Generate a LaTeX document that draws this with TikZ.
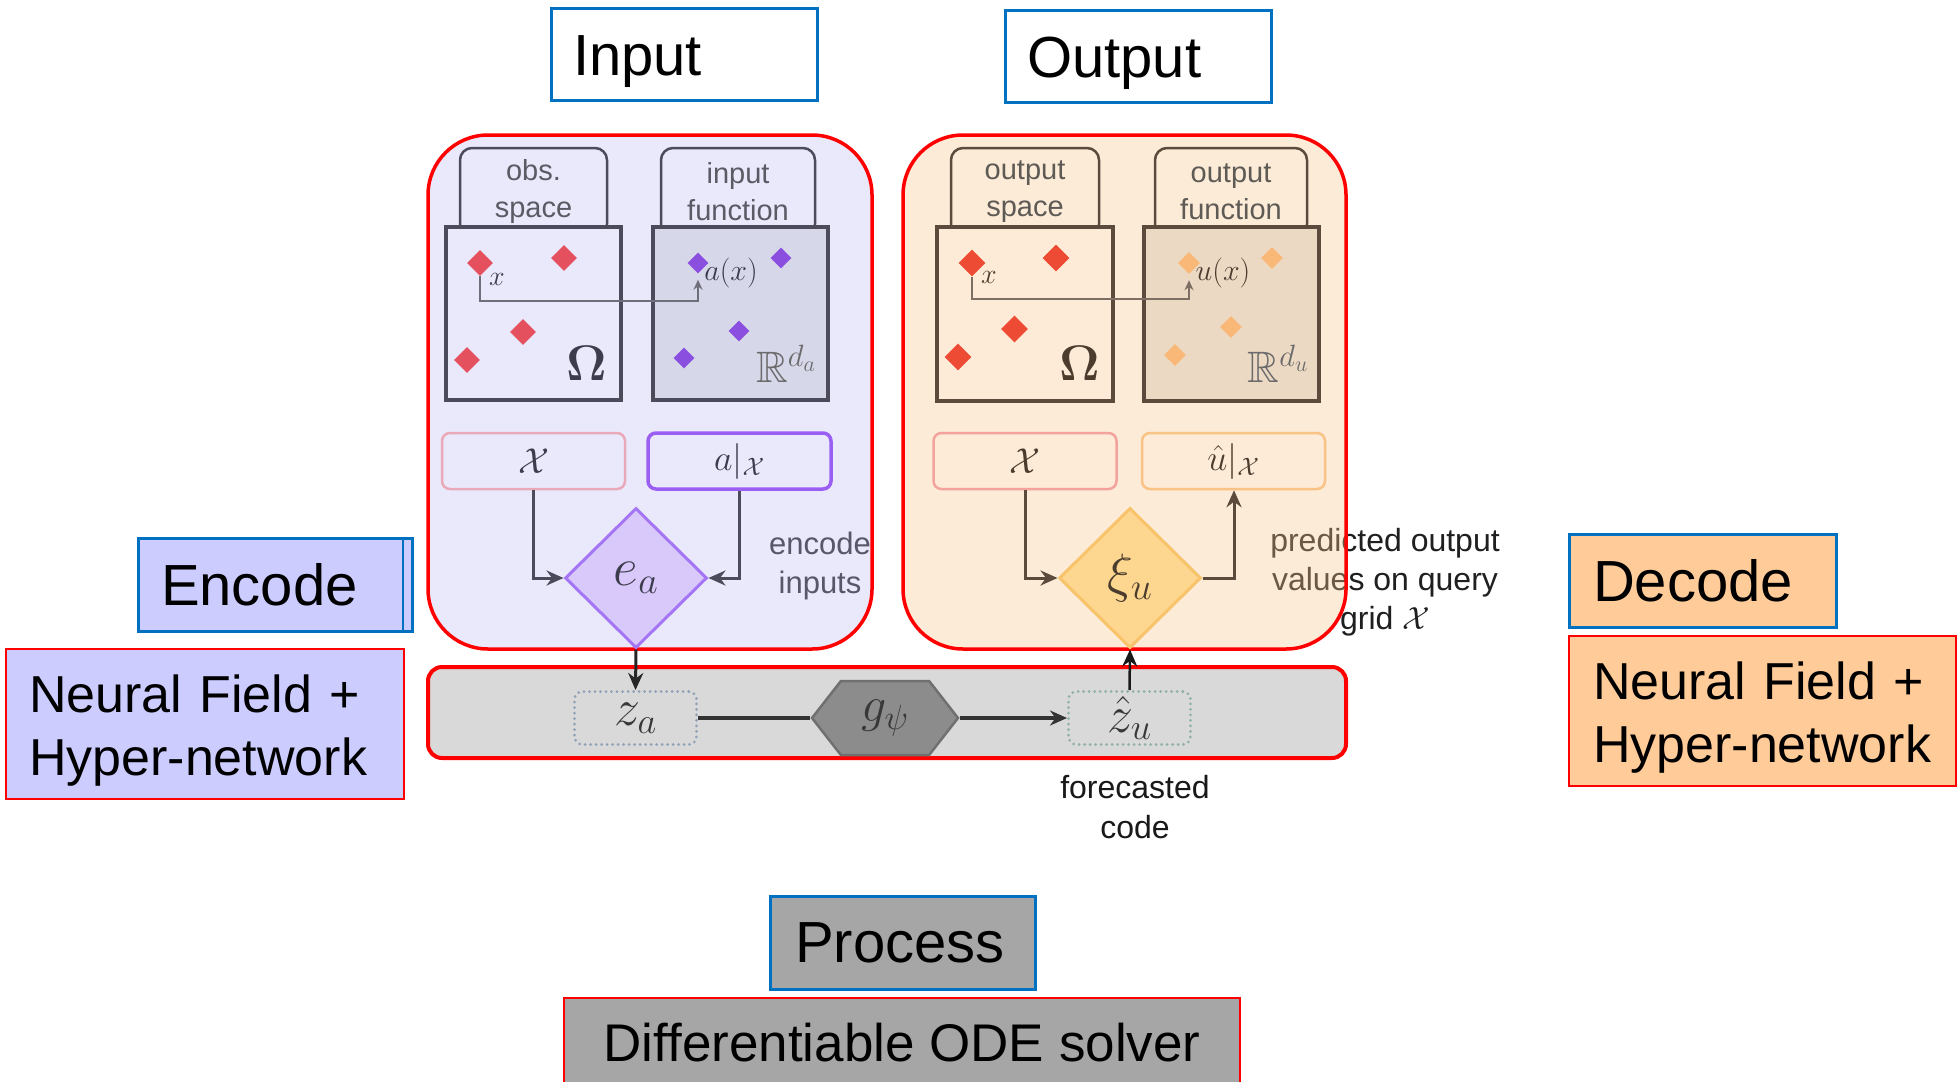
\RequirePackage{fix-cm}
\documentclass[tikz,border=0pt]{standalone}
\usepackage[no-math]{fontspec}
\usepackage{amssymb}
\newfontfamily\arial{Liberation Sans}
\usetikzlibrary{arrows.meta,shapes.geometric,shapes.symbols}

% label boxes
\definecolor{frameblue}{HTML}{0070C0}
\definecolor{framered}{HTML}{FF0000}
\definecolor{encfill}{HTML}{CCCCFF}
\definecolor{decfill}{HTML}{FFCC99}
\definecolor{procfill}{HTML}{A6A6A6}
% encoder panel
\definecolor{encbg}{RGB}{192,192,244}
\definecolor{encpane}{HTML}{E9E9FB}
\definecolor{encdark}{HTML}{4B4B5B}
\definecolor{encR}{HTML}{D7D7EA}
\definecolor{encred}{HTML}{E5505F}
\definecolor{encpurple}{HTML}{8B4FE0}
\definecolor{encpink}{HTML}{E9A9B9}
\definecolor{encviolet}{HTML}{9B5EF2}
\definecolor{eafill}{HTML}{D9C9FB}
\definecolor{eadraw}{HTML}{A476F3}
\definecolor{encmath}{HTML}{3C3C4C}
\definecolor{enctxt}{HTML}{5B5B66}
% decoder panel
\definecolor{decbg}{RGB}{249,198,141}
\definecolor{decpane}{HTML}{FDEBD7}
\definecolor{decdark}{HTML}{5C4B3C}
\definecolor{decR}{HTML}{ECD9C4}
\definecolor{decred}{HTML}{EE4B35}
\definecolor{decorange}{HTML}{F9B877}
\definecolor{decpink}{HTML}{F3A39C}
\definecolor{decamber}{HTML}{F8C384}
\definecolor{xifill}{HTML}{FDD78F}
\definecolor{xidraw}{HTML}{F8C36B}
\definecolor{decmath}{HTML}{4B3C2E}
\definecolor{dectxt}{HTML}{5E5A55}
% processor bar
\definecolor{barfill}{HTML}{D9D9D9}
\definecolor{zadot}{HTML}{8FA0B8}
\definecolor{zudot}{HTML}{8FB0A6}
\definecolor{hexfill}{HTML}{8C8C8C}
\definecolor{hexdraw}{HTML}{707070}

% struts that keep the capitals centred in their boxes
\newcommand{\capstrut}{\rule{0pt}{53.5pt}}
\newcommand{\nfstrut}{\rule{0pt}{50pt}}

\tikzset{
  bigfont/.style={font=\arial\fontsize{58}{70}\selectfont},
  nffont/.style={font=\arial\fontsize{52}{63}\selectfont},
  titlebox/.style={draw=frameblue, line width=3pt, fill=white, bigfont,
    inner ysep=0pt, align=left, anchor=center},
  nfbox/.style={draw=framered, line width=2pt, nffont, inner ysep=0pt, align=left},
  panel/.style={draw=framered, line width=3.5pt, rounded corners=60pt,
    fill opacity=0.35, draw opacity=1, inner sep=0pt},
  note/.style={font=\arial\fontsize{31}{39}\selectfont, align=center, text=black!88},
  tab/.style={line width=2.5pt, rounded corners=12pt, inner sep=0pt, align=center,
    font=\arial\fontsize{29}{37}\selectfont, minimum height=88pt},
  space/.style={line width=4pt, minimum width=175pt, minimum height=173pt, inner sep=0pt},
  gem/.style={shape=diamond, aspect=1, inner sep=0pt, minimum size=#1},
  setbox/.style={line width=2.5pt, rounded corners=8pt, minimum width=183pt,
    minimum height=56pt, inner sep=0pt, font=\fontsize{36}{42}\selectfont},
  netgem/.style={shape=diamond, aspect=1, inner sep=0pt, line width=3pt,
    minimum width=142pt, minimum height=140pt, font=\fontsize{54}{60}\selectfont},
  code/.style={line width=3pt, dash pattern=on 0pt off 5.5pt, line cap=round,
    rounded corners=8pt, minimum width=122pt, minimum height=53pt, inner sep=0pt,
    font=\fontsize{52}{58}\selectfont, text=black!78},
  arr/.style={line width=3pt, -{Stealth[length=17pt,width=15pt]}},
  thinarr/.style={line width=1.6pt, -{Stealth[length=10pt,width=9pt]}},
  mathlbl/.style={inner sep=0pt, font=\fontsize{28}{32}\selectfont},
  bigR/.style={inner sep=0pt, text=black!58, font=\fontsize{44}{50}\selectfont},
  omega/.style={inner sep=0pt, font=\fontsize{50}{56}\selectfont},
}

\begin{document}
\begin{tikzpicture}[x=1pt,y=-1pt]
\useasboundingbox (0,0) rectangle (1958,1081);
\fill[white] (0,0) rectangle (1958,1081);

% ---------- headings ----------
\node[titlebox, text width=222pt, inner xsep=22pt, minimum height=91pt] (input) at (684,54.5) {\capstrut Input};
\node[titlebox, text width=222pt, inner xsep=22pt, minimum height=91pt] (output) at (1138,56.5) {\capstrut Output};

% ---------- side labels ----------
\node[titlebox, fill=encfill, text width=228pt, inner xsep=23pt, minimum height=93pt] (encode) at (275,584.5) {Encode};
\draw[frameblue, line width=2.5pt] (403,538) -- (403,631);
\node[nfbox, fill=encfill, text width=352pt, inner xsep=23pt, minimum height=150pt] (nfenc) at (205,724)
  {\nfstrut\mbox{Neural Field +}\\\mbox{Hyper-network}};

\node[titlebox, fill=decfill, text width=219pt, inner xsep=24pt, minimum height=93pt] (decode) at (1702.5,580.5) {Decode};
\node[nfbox, fill=decfill, text width=339pt, inner xsep=24pt, minimum height=150pt] (nfdec) at (1762.5,711)
  {\nfstrut\mbox{Neural Field +}\\\mbox{Hyper-network}};

\node[titlebox, fill=procfill, text width=215pt, inner xsep=25pt, minimum height=93pt] (process) at (902.5,942.5) {Process};
\node[nfbox, fill=procfill, minimum width=676pt, minimum height=90pt, align=center,
      font=\arial\fontsize{53}{63}\selectfont] (solver) at (902,1043) {Differentiable ODE solver};

% ---------- annotations (seen through the panels) ----------
\node[note] (enctext) at (820,566) {encode\\inputs};
\node[note, font=\arial\fontsize{32}{39}\selectfont] (predtext) at (1385,582) {predicted output\\values on query\\grid $\mathcal{X}$};

% ---------- panels ----------
\node[panel, fill=encbg, minimum width=444pt, minimum height=514pt] (encpanel) at (650,392) {};
\node[panel, fill=decbg, minimum width=443pt, minimum height=514pt] (decpanel) at (1124.5,392) {};
\node[draw=framered, line width=4pt, fill=barfill, rounded corners=14pt,
      minimum width=918pt, minimum height=91pt, inner sep=0pt] (procbar) at (887,712.5) {};

% ---------- encoder panel ----------
\node[tab, draw=encdark, text=enctxt, minimum width=147pt] (obstab) at (533.5,192) {obs.\\space};
\node[tab, draw=encdark, text=enctxt, minimum width=154pt] (intab) at (738,192) {input\\function};
\node[space, draw=encdark, fill=encpane] (omegaA) at (533.5,313.5) {};
\node[space, draw=encdark, fill=encR] (rA) at (740.5,313.5) {};

\node[gem=26pt, fill=encred] (xA) at (480,263) {};
\node[gem=26pt, fill=encred] (rdA2) at (564,258) {};
\node[gem=26pt, fill=encred] (rdA3) at (523,332) {};
\node[gem=26pt, fill=encred] (rdA4) at (467,360) {};
\node[gem=21pt, fill=encpurple] (axA) at (698,263) {};
\node[gem=21pt, fill=encpurple] (pdA2) at (781,258) {};
\node[gem=21pt, fill=encpurple] (pdA3) at (739,331) {};
\node[gem=21pt, fill=encpurple] (pdA4) at (684,358) {};
\coordinate (bendA) at (480,301);
\draw[thinarr, draw=encdark!80] (xA.south) -- (bendA) -| ([yshift=-6pt]axA.south);
\node[mathlbl, text=encmath] (xlblA) at (497,279) {$x$};
\node[mathlbl, text=encmath, font=\fontsize{30}{34}\selectfont] (axlbl) at (731,273) {$a(x)$};
\node[omega, text=encmath] (omlblA) at (587,363) {$\mathbf{\Omega}$};
\node[bigR] (rlblA) at (786,364) {$\mathbb{R}^{d_a}$};

\node[setbox, draw=encpink, fill=encpane, text=encmath] (gridA) at (533.5,461) {$\mathcal{X}$};
\node[setbox, draw=encviolet, line width=3.5pt, fill=encpane, text=encmath] (aX) at (739.5,461) {$a\vert_{\mathcal{X}}$};
\node[netgem, fill=eafill, draw=eadraw, text=encmath] (ea) at (636,578) {$e_a$};
\draw[arr, draw=encdark] (gridA.south) |- (ea.west);
\draw[arr, draw=encdark] (aX.south) |- (ea.east);

% ---------- decoder panel ----------
\node[tab, draw=decdark, text=dectxt, minimum width=148pt] (outtab) at (1025,192) {output\\space};
\node[tab, draw=decdark, text=dectxt, minimum width=152pt] (fntab) at (1231,192) {output\\function};
\node[space, draw=decdark, fill=decpane, minimum width=176pt, minimum height=174pt] (omegaB) at (1025,314) {};
\node[space, draw=decdark, fill=decR, minimum width=175pt, minimum height=174pt] (rB) at (1231.5,314) {};

\node[gem=27pt, fill=decred] (xB) at (972,263) {};
\node[gem=27pt, fill=decred] (rdB2) at (1056,258) {};
\node[gem=27pt, fill=decred] (rdB3) at (1014.5,329) {};
\node[gem=27pt, fill=decred] (rdB4) at (958,357) {};
\node[gem=22pt, fill=decorange] (uxB) at (1189,263) {};
\node[gem=22pt, fill=decorange] (odB2) at (1272,258) {};
\node[gem=22pt, fill=decorange] (odB3) at (1231,327) {};
\node[gem=22pt, fill=decorange] (odB4) at (1175,355) {};
\coordinate (bendB) at (972,299);
\draw[thinarr, draw=decdark!80] (xB.south) -- (bendB) -| ([yshift=-6pt]uxB.south);
\node[mathlbl, text=decmath] (xlblB) at (989,277) {$x$};
\node[mathlbl, text=decmath, font=\fontsize{30}{34}\selectfont] (uxlbl) at (1223,273) {$u(x)$};
\node[omega, text=decmath] (omlblB) at (1080,363) {$\mathbf{\Omega}$};
\node[bigR] (rlblB) at (1278,364) {$\mathbb{R}^{d_u}$};

\node[setbox, draw=decpink, fill=decpane, text=decmath] (gridB) at (1025,461) {$\mathcal{X}$};
\node[setbox, draw=decamber, fill=decpane, text=decmath] (uX) at (1233.5,461) {$\hat{u}\vert_{\mathcal{X}}$};
\node[netgem, fill=xifill, draw=xidraw, text=decmath] (xi) at (1130,578) {$\xi_u$};
\coordinate (riseB) at (1234,578);
\draw[arr, draw=decdark] (gridB.south) |- (xi.west);
\draw[arr, draw=decdark] (xi.east) -- (riseB) -- (uX.south -| riseB);

% ---------- processor ----------
\node[code, draw=zadot] (za) at (635.5,718) {$z_a$};
\node[signal, signal to=east and west, signal pointer angle=104, fill=hexfill,
      draw=hexdraw, line width=2.5pt, minimum width=146pt, minimum height=74pt,
      inner sep=0pt, font=\fontsize{50}{56}\selectfont, text=black!78] (g) at (885,718) {$g_\psi$};
\node[code, draw=zudot] (zu) at (1129.5,718) {$\hat{z}_u$};
\draw[line width=4.5pt, black!80] (za.east) -- (g.west);
\draw[arr, line width=4.5pt, black!80] (g.east) -- (zu.west);
\draw[arr, black!85] (ea.south) -- (za.north);
\draw[arr, line width=2.5pt, black!90] (zu.north) -- (xi.south);

\node[note, text=black!90, font=\arial\fontsize{32}{40}\selectfont] (fctext) at (1135,807) {forecasted\\code};
\end{tikzpicture}
\end{document}
